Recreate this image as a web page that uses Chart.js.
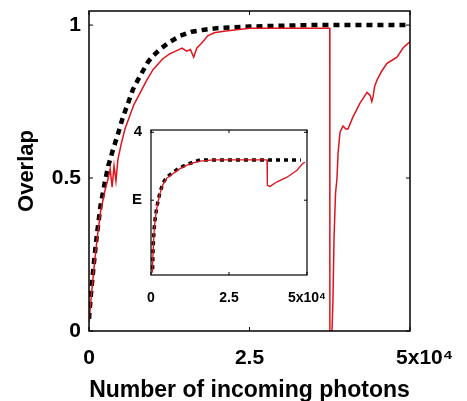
<!DOCTYPE html>
<html>
<head>
<meta charset="utf-8">
<script src="https://cdn.jsdelivr.net/npm/chart.js@4/dist/chart.umd.min.js"></script>
<style>
  body { margin: 0; background: #fff; }
  #wrap { position: relative; width: 467px; height: 401px; }
  #mainChart { position: absolute; left: 0; top: 0; }
  #insetChart { position: absolute; left: 100px; top: 110px; }
</style>
</head>
<body>
<div id="wrap">
  <canvas id="mainChart" width="467" height="401"></canvas>
  <canvas id="insetChart" width="230" height="205"></canvas>
</div>
<script>
// main panel: overlap vs number of photons
const blackX = [0, 300, 700, 1200, 1800, 2500, 3000, 3700, 4600, 5300, 6000, 6850, 7600, 8400, 9200, 10000, 11300, 12600, 14200, 16000, 18000, 20000, 25000, 30000, 35000, 50000];
const blackY = [0.04, 0.12, 0.21, 0.31, 0.41, 0.49, 0.54, 0.59, 0.65, 0.70, 0.74, 0.79, 0.82, 0.85, 0.88, 0.90, 0.925, 0.945, 0.965, 0.978, 0.985, 0.99, 0.995, 0.998, 1.0, 1.0];

const redX = [0, 300, 700, 1200, 1800, 2500, 3000, 3300, 3600, 3900, 4200, 4500, 5000, 5600, 6300, 7000, 8000, 9000, 10000, 11500, 12500, 13500, 14500, 15200, 15800, 16300, 16800, 17500, 18500, 19500, 21000, 23000, 25000, 30000, 37500, 37520, 37850, 38000, 38160, 38400, 38630, 38790, 39100, 39560, 40000, 40340, 41120, 42210, 43300, 43800, 44050, 44240, 44500, 44860, 45600, 46420, 47200, 47980, 48910, 49690, 50000];
const redY = [0.03, 0.10, 0.19, 0.29, 0.39, 0.46, 0.50, 0.53, 0.47, 0.54, 0.49, 0.56, 0.61, 0.66, 0.70, 0.74, 0.78, 0.82, 0.855, 0.89, 0.905, 0.915, 0.925, 0.915, 0.92, 0.895, 0.925, 0.94, 0.965, 0.975, 0.98, 0.985, 0.99, 0.99, 0.99, 0.0, 0.0, 0.10, 0.30, 0.45, 0.50, 0.58, 0.65, 0.67, 0.66, 0.66, 0.70, 0.745, 0.78, 0.77, 0.75, 0.765, 0.80, 0.82, 0.85, 0.875, 0.885, 0.895, 0.925, 0.94, 0.945];

const xTickValues = [0, 25000, 50000];
const xTickLabels = ["0", "2.5", "     5x10\u2074"];
const yTickValues = [0, 0.5, 1];
const yTickLabels = ["0", "0.5", "1"];

// inset panel
const insetBlackX = [500, 700, 1000, 1300, 1800, 2300, 3000, 3900, 5000, 7000, 9000, 11500, 13500, 15700, 48000];
const insetBlackY = [0.05, 0.25, 0.40, 0.48, 0.58, 0.65, 0.73, 0.80, 0.85, 0.89, 0.93, 0.96, 0.98, 1.0, 1.0];
const insetRedX = [400, 700, 1000, 1300, 1800, 2300, 3000, 3900, 5000, 7000, 9000, 11500, 13500, 15700, 20000, 30000, 37180, 37300, 38140, 40400, 43600, 46800, 48700, 49400];
const insetRedY = [0.02, 0.22, 0.38, 0.47, 0.57, 0.64, 0.72, 0.79, 0.84, 0.88, 0.92, 0.955, 0.975, 0.99, 1.0, 1.0, 1.0, 0.78, 0.77, 0.81, 0.85, 0.91, 0.97, 0.98];
const insetXTickValues = [0, 25000, 50000];
const insetXTickLabels = ["0", "2.5", "5x10\u2074"];
const insetYTickValues = [0.65, 1.24];
const insetYTickLabels = ["E", "4"];

const pts = (xs, ys) => xs.map((x, i) => ({ x: x, y: ys[i] }));
const FONT = "'Liberation Sans', Arial, sans-serif";

// box around plot area + inward tick marks
const framePlugin = {
  id: 'frame',
  afterDraw(chart, args, opts) {
    const { ctx, chartArea: a, scales } = chart;
    const len = opts.tickLen || 4;
    ctx.save();
    ctx.strokeStyle = '#000';
    ctx.lineWidth = opts.lineWidth || 1.5;
    ctx.strokeRect(a.left, a.top, a.right - a.left, a.bottom - a.top);
    ctx.lineWidth = 1;
    scales.x.ticks.forEach(t => {
      const px = scales.x.getPixelForValue(t.value);
      ctx.beginPath();
      ctx.moveTo(px, a.bottom); ctx.lineTo(px, a.bottom - len);
      ctx.moveTo(px, a.top); ctx.lineTo(px, a.top + len);
      ctx.stroke();
    });
    scales.y.ticks.forEach(t => {
      const py = scales.y.getPixelForValue(t.value);
      ctx.beginPath();
      ctx.moveTo(a.left, py); ctx.lineTo(a.left + len, py);
      ctx.moveTo(a.right, py); ctx.lineTo(a.right - len, py);
      ctx.stroke();
    });
    ctx.restore();
  }
};

function fixedTicks(values) {
  return scale => { scale.ticks = values.map(v => ({ value: v })); };
}
function fitX(h) {
  return s => { s.height = h; s.paddingLeft = 0; s.paddingRight = 0; };
}
function fitY(w) {
  return s => { s.width = w; s.paddingTop = 0; s.paddingBottom = 0; };
}

new Chart(document.getElementById('mainChart').getContext('2d'), {
  type: 'scatter',
  data: {
    datasets: [
      {
        label: 'red',
        data: pts(redX, redY),
        showLine: true,
        borderColor: '#df141c',
        borderWidth: 1.5,
        pointRadius: 0,
        tension: 0
      },
      {
        label: 'black',
        data: pts(blackX, blackY),
        showLine: true,
        borderColor: '#000',
        borderWidth: 4.5,
        borderDash: [6, 5],
        pointRadius: 0,
        tension: 0
      }
    ]
  },
  options: {
    responsive: false,
    animation: false,
    layout: { padding: { left: 0, top: 11, right: 57, bottom: 0 } },
    plugins: {
      legend: { display: false },
      tooltip: { enabled: false },
      frame: { tickLen: 4, lineWidth: 1.5 }
    },
    scales: {
      x: {
        type: 'linear',
        min: 0,
        max: 50000,
        afterBuildTicks: fixedTicks(xTickValues),
        afterFit: fitX(70),
        grid: { display: false, drawTicks: false },
        border: { display: false },
        ticks: {
          padding: 15,
          maxRotation: 0,
          color: '#000',
          font: { family: FONT, size: 21, weight: 'bold' },
          callback: v => xTickLabels[xTickValues.indexOf(v)]
        },
        title: {
          display: true,
          text: 'Number of incoming photons',
          color: '#000',
          font: { family: FONT, size: 23, weight: 'bold', lineHeight: 1 },
          padding: { top: 0, bottom: -1 }
        }
      },
      y: {
        type: 'linear',
        min: 0,
        max: 1.046,
        afterBuildTicks: fixedTicks(yTickValues),
        afterFit: fitY(89),
        grid: { display: false, drawTicks: false },
        border: { display: false },
        ticks: {
          padding: 8,
          color: '#000',
          font: { family: FONT, size: 21, weight: 'bold' },
          callback: v => yTickLabels[yTickValues.indexOf(v)]
        },
        title: {
          display: true,
          text: 'Overlap',
          color: '#000',
          font: { family: FONT, size: 22, weight: 'bold', lineHeight: 1 },
          padding: { top: 16, bottom: 0 }
        }
      }
    }
  },
  plugins: [framePlugin]
});

new Chart(document.getElementById('insetChart').getContext('2d'), {
  type: 'scatter',
  data: {
    datasets: [
      {
        label: 'red',
        data: pts(insetRedX, insetRedY),
        showLine: true,
        borderColor: '#df141c',
        borderWidth: 1.3,
        pointRadius: 0,
        tension: 0
      },
      {
        label: 'black',
        data: pts(insetBlackX, insetBlackY),
        showLine: true,
        borderColor: '#000',
        borderWidth: 3.5,
        borderDash: [4, 4],
        pointRadius: 0,
        tension: 0
      }
    ]
  },
  options: {
    responsive: false,
    animation: false,
    layout: { padding: { left: 0, top: 20, right: 23, bottom: 0 } },
    plugins: {
      legend: { display: false },
      tooltip: { enabled: false },
      frame: { tickLen: 3, lineWidth: 1.2 }
    },
    scales: {
      x: {
        type: 'linear',
        min: 0,
        max: 50000,
        afterBuildTicks: fixedTicks(insetXTickValues),
        afterFit: fitX(40),
        grid: { display: false, drawTicks: false },
        border: { display: false },
        ticks: {
          padding: 15,
          maxRotation: 0,
          color: '#000',
          font: { family: FONT, size: 14, weight: 'bold' },
          callback: v => insetXTickLabels[insetXTickValues.indexOf(v)]
        }
      },
      y: {
        type: 'linear',
        min: 0,
        max: 1.26,
        afterBuildTicks: fixedTicks(insetYTickValues),
        afterFit: fitY(51),
        grid: { display: false, drawTicks: false },
        border: { display: false },
        ticks: {
          padding: 9,
          color: '#000',
          font: { family: FONT, size: 15, weight: 'bold' },
          callback: v => insetYTickLabels[insetYTickValues.indexOf(v)]
        }
      }
    }
  },
  plugins: [framePlugin]
});
</script>
</body>
</html>
